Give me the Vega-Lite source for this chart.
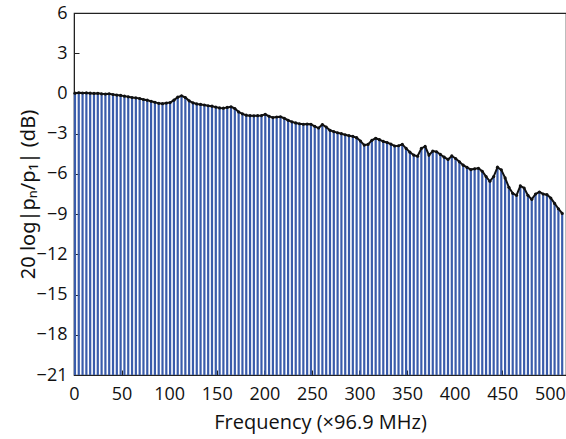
{
  "$schema": "https://vega.github.io/schema/vega-lite/v6.json",
  "autosize": "none",
  "width": 492,
  "height": 362,
  "padding": {"left": 74, "top": 13, "right": 0, "bottom": 64},
  "background": "white",
  "config": {
    "view": {"stroke": "#222", "strokeWidth": 1.2},
    "font": "Open Sans",
    "axis": {"domainColor": "#222", "tickColor": "#222", "labelColor": "#111", "titleColor": "#111", "titleFontWeight": "normal", "grid": false, "labelFont": "Open Sans", "titleFont": "Open Sans", "labelFlush": false}
  },
  "data": {"values": [
    {"f":1,"db":0.02},{"f":5,"db":0.05},{"f":9,"db":0.03},{"f":13,"db":0.04},{"f":17,"db":0.02},{"f":21,"db":0.0},{"f":25,"db":0.01},{"f":29,"db":-0.03},{"f":33,"db":-0.05},{"f":37,"db":-0.02},
    {"f":41,"db":-0.08},{"f":45,"db":-0.12},{"f":49,"db":-0.15},{"f":53,"db":-0.2},{"f":57,"db":-0.25},{"f":61,"db":-0.3},{"f":65,"db":-0.33},{"f":69,"db":-0.38},{"f":73,"db":-0.45},{"f":77,"db":-0.5},
    {"f":81,"db":-0.58},{"f":85,"db":-0.66},{"f":89,"db":-0.74},{"f":93,"db":-0.76},{"f":97,"db":-0.72},{"f":101,"db":-0.68},{"f":105,"db":-0.5},{"f":109,"db":-0.28},{"f":113,"db":-0.17},{"f":117,"db":-0.3},
    {"f":121,"db":-0.55},{"f":125,"db":-0.7},{"f":129,"db":-0.78},{"f":133,"db":-0.82},{"f":137,"db":-0.86},{"f":141,"db":-0.92},{"f":145,"db":-0.95},{"f":149,"db":-1.02},{"f":153,"db":-1.08},{"f":157,"db":-1.1},
    {"f":161,"db":-1.04},{"f":165,"db":-1.0},{"f":169,"db":-1.12},{"f":173,"db":-1.38},{"f":177,"db":-1.52},{"f":181,"db":-1.62},{"f":185,"db":-1.66},{"f":189,"db":-1.67},{"f":193,"db":-1.66},{"f":197,"db":-1.65},
    {"f":201,"db":-1.56},{"f":205,"db":-1.7},{"f":209,"db":-1.8},{"f":213,"db":-1.76},{"f":217,"db":-1.74},{"f":221,"db":-1.85},{"f":225,"db":-2.0},{"f":229,"db":-2.12},{"f":233,"db":-2.2},{"f":237,"db":-2.26},
    {"f":241,"db":-2.3},{"f":245,"db":-2.28},{"f":249,"db":-2.3},{"f":253,"db":-2.45},{"f":257,"db":-2.58},{"f":261,"db":-2.32},{"f":265,"db":-2.5},{"f":269,"db":-2.75},{"f":273,"db":-2.85},{"f":277,"db":-2.93},
    {"f":281,"db":-3.0},{"f":285,"db":-3.08},{"f":289,"db":-3.15},{"f":293,"db":-3.2},{"f":297,"db":-3.3},{"f":301,"db":-3.55},{"f":305,"db":-3.85},{"f":309,"db":-3.8},{"f":313,"db":-3.5},{"f":317,"db":-3.34},
    {"f":321,"db":-3.45},{"f":325,"db":-3.58},{"f":329,"db":-3.66},{"f":333,"db":-3.78},{"f":337,"db":-3.92},{"f":341,"db":-3.9},{"f":345,"db":-3.8},{"f":349,"db":-4.1},{"f":353,"db":-4.38},{"f":357,"db":-4.6},
    {"f":361,"db":-4.68},{"f":365,"db":-4.1},{"f":369,"db":-3.95},{"f":373,"db":-4.6},{"f":377,"db":-4.3},{"f":381,"db":-4.35},{"f":385,"db":-4.55},{"f":389,"db":-4.75},{"f":393,"db":-4.92},{"f":397,"db":-4.66},
    {"f":401,"db":-4.85},{"f":405,"db":-5.1},{"f":409,"db":-5.35},{"f":413,"db":-5.52},{"f":417,"db":-5.68},{"f":421,"db":-5.62},{"f":425,"db":-5.58},{"f":429,"db":-5.8},{"f":433,"db":-6.2},{"f":437,"db":-6.55},
    {"f":441,"db":-6.2},{"f":445,"db":-5.5},{"f":449,"db":-5.7},{"f":453,"db":-6.3},{"f":457,"db":-7.0},{"f":461,"db":-7.45},{"f":465,"db":-7.6},{"f":469,"db":-6.9},{"f":473,"db":-7.05},{"f":477,"db":-7.6},
    {"f":481,"db":-7.9},{"f":485,"db":-7.5},{"f":489,"db":-7.35},{"f":493,"db":-7.5},{"f":497,"db":-7.55},{"f":501,"db":-7.8},{"f":505,"db":-8.2},{"f":509,"db":-8.6},{"f":513,"db":-8.95}
  ]},
  "layer": [
    {
      "mark": {"type": "rule", "color": "#3a5cab", "strokeWidth": 2.2},
      "encoding": {
        "x": {"field": "f", "type": "quantitative", "scale": {"domain": [0, 517], "nice": false, "zero": false},
          "axis": {"values": [0,50,100,150,200,250,300,350,400,450,500], "tickSize": -5, "labelFontSize": 18, "titleFontSize": 20, "labelPadding": 15, "labelFlush": false, "title": "Frequency (×96.9 MHz)", "titleY": 47, "titleBaseline": "middle"}},
        "y": {"field": "db", "type": "quantitative", "scale": {"domain": [-21, 6], "nice": false, "zero": false},
          "axis": {"values": [-21,-18,-15,-12,-9,-6,-3,0,3,6], "tickSize": -5, "labelFontSize": 18, "titleFontSize": 20, "titleFont": "Noto Sans", "labelPadding": 12, "labelFlush": false, "title": "20 log|pₙ/p₁| (dB)", "titleX": -46, "titleY": 181, "titleBaseline": "middle", "titleAlign": "center", "titleAngle": 270, "labelExpr": "replace(datum.label, '-', '−')"}},
        "y2": {"datum": -21}
      }
    },
    {
      "mark": {"type": "line", "color": "#111", "strokeWidth": 2},
      "encoding": {
        "x": {"field": "f", "type": "quantitative"},
        "y": {"field": "db", "type": "quantitative"}
      }
    },
    {
      "mark": {"type": "point", "filled": true, "color": "#111", "size": 10, "opacity": 1},
      "encoding": {
        "x": {"field": "f", "type": "quantitative"},
        "y": {"field": "db", "type": "quantitative"}
      }
    }
  ]
}
